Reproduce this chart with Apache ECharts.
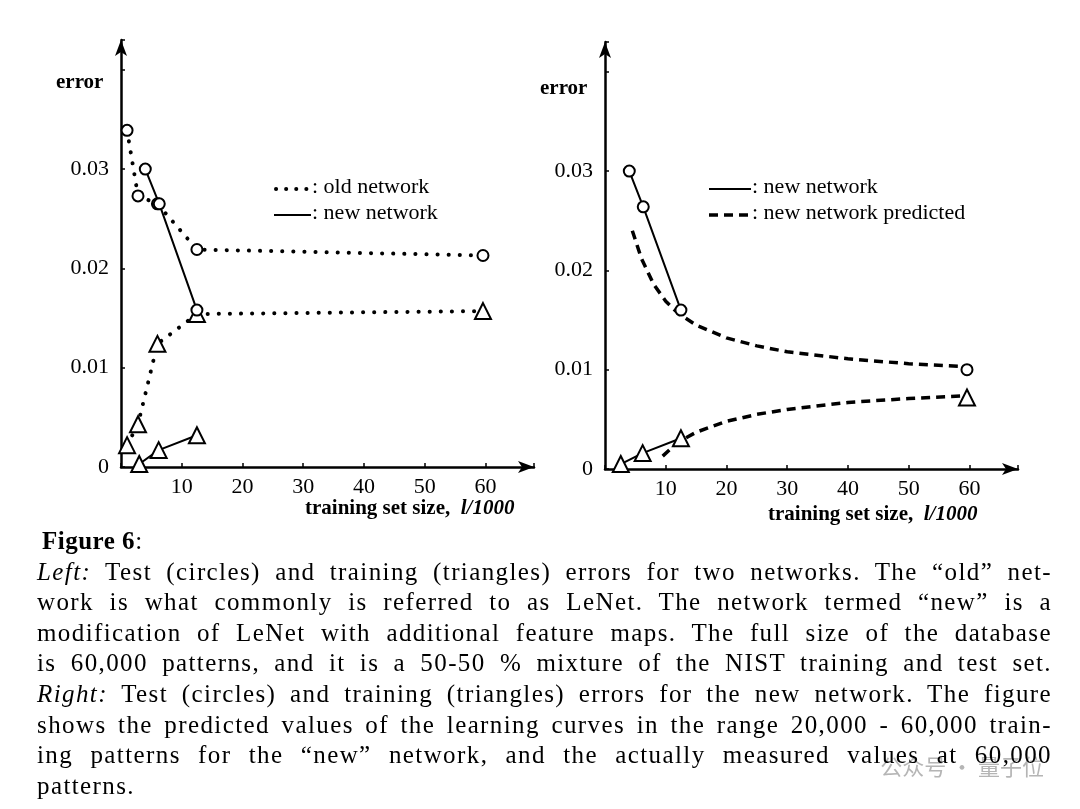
<!DOCTYPE html>
<html>
<head>
<meta charset="utf-8">
<script src="https://cdn.jsdelivr.net/npm/echarts@6/dist/echarts.min.js"></script>
<style>
html,body{margin:0;background:#fff}
#wrap{position:relative;width:1080px;height:809px}
#main{position:absolute;left:0;top:0;width:1080px;height:809px}
#cap{position:absolute;left:37px;top:526px;width:1015px;font:25px "Liberation Serif",serif;letter-spacing:1.4px;color:#000}
#cap div{height:30.6px;line-height:30.6px;text-align:justify;text-align-last:justify;white-space:nowrap}
#cap div.last{text-align-last:left}
</style>
</head>
<body>
<div id="wrap"><div id="main"></div><div id="cap"></div></div>
<script>
// left panel
var oldTest = [[1, 0.0339], [2.8, 0.0273], [6, 0.0265], [12.5, 0.0219], [59.6, 0.0213]];
var oldTrain = [[1, 0.0022], [2.8, 0.0043], [6, 0.0124], [12.5, 0.0154], [59.6, 0.0157]];
var newTestL = [[4, 0.0300], [6.3, 0.0265], [12.5, 0.0158]];
var newTrainL = [[3, 0.0003], [6.2, 0.0017], [12.5, 0.0032]];
// right panel
var newTestR = [[4, 0.0300], [6.3, 0.0264], [12.5, 0.0160]];
var newTrainR = [[2.6, 0.0005], [6.2, 0.0016], [12.5, 0.0031]];
var measured60 = [[59.6, 0.0100]];
var measured60Train = [[59.6, 0.0072]];
var predTest = [[4.5, 0.0240], [6, 0.0212], [8, 0.0186], [10, 0.0169], [12, 0.0157], [15, 0.0145], [20, 0.0132], [25, 0.0124], [30, 0.0118], [40, 0.0111], [50, 0.0106], [60, 0.0103]];
var predTrain = [[9.5, 0.0013], [12, 0.0027], [15, 0.0037], [20, 0.0048], [25, 0.0055], [30, 0.0060], [40, 0.0067], [50, 0.0071], [60, 0.0074]];

var captionLines = [
  '<b>Figure 6</b>:',
  '<i>Left:</i> Test (circles) and training (triangles) errors for two networks. The \u201cold\u201d net-',
  'work is what commonly is referred to as LeNet. The network termed \u201cnew\u201d is a',
  'modification of LeNet with additional feature maps. The full size of the database',
  'is 60,000 patterns, and it is a 50-50 % mixture of the NIST training and test set.',
  '<i>Right:</i> Test (circles) and training (triangles) errors for the new network. The figure',
  'shows the predicted values of the learning curves in the range 20,000 - 60,000 train-',
  'ing patterns for the \u201cnew\u201d network, and the actually measured values at 60,000',
  'patterns.'
];
document.getElementById('cap').innerHTML = captionLines.map(function (l, k) {
  var last = (k === 0 || k === captionLines.length - 1) ? ' class="last"' : '';
  var st = k === 0 ? ' style="padding-left:5px;letter-spacing:0.5px"' : '';
  return '<div' + last + st + '>' + l + '</div>';
}).join('');

var F = '"Liberation Serif", "DejaVu Serif", serif';
var chart = echarts.init(document.getElementById('main'));

function xAx(i) {
  return {
    type: 'value', gridIndex: i, min: 0, max: 68, interval: 10,
    axisLine: {lineStyle: {color: '#000', width: 2.5}, symbol: ['none', 'arrow'], symbolSize: [9, 16]},
    axisTick: {inside: true, length: 4, lineStyle: {color: '#000', width: 1.5}},
    axisLabel: {color: '#000', fontFamily: F, fontSize: 22, margin: 9,
      formatter: function (v) { return (v > 0 && v <= 60) ? String(v) : ''; }},
    splitLine: {show: false}
  };
}
function yAx(i) {
  return {
    type: 'value', gridIndex: i, min: 0, max: 0.043, interval: 0.01,
    axisLine: {onZero: false, lineStyle: {color: '#000', width: 2.5}, symbol: ['none', 'arrow'], symbolSize: [9, 16]},
    axisTick: {inside: true, length: 4, lineStyle: {color: '#000', width: 1.5}},
    axisLabel: {color: '#000', fontFamily: F, fontSize: 22, margin: 12,
      formatter: function (v) { return v > 0.035 ? '' : (v === 0 ? '0' : v.toFixed(2)); }},
    splitLine: {show: false}
  };
}
var dotted = {color: '#000', width: 4, type: [0.1, 11], cap: 'round'};
var solid = {color: '#000', width: 2};
var dashed = {color: '#000', width: 3.5, type: [9, 6]};
var none = {width: 0};
function ser(data, i, line, sym, size) {
  return {type: 'line', xAxisIndex: i, yAxisIndex: i, data: data, lineStyle: line,
    symbol: sym, symbolSize: size, showAllSymbol: true, smooth: false,
    itemStyle: {color: '#000', borderColor: '#000', borderWidth: 2}, z: 3, animation: false};
}

var graphic = [
  {type: 'text', left: 56, top: 72, style: {text: 'error', font: 'bold 21px ' + F, fill: '#000'}},
  {type: 'text', left: 540, top: 78, style: {text: 'error', font: 'bold 21px ' + F, fill: '#000'}},
  {type: 'text', left: 305, top: 498, style: {rich: {b: {font: 'bold 21px ' + F, fill: '#000'}, i: {font: 'italic bold 21px ' + F, fill: '#000'}}, text: '{b|training set size,  }{i|l/1000}'}},
  {type: 'text', left: 768, top: 504, style: {rich: {b: {font: 'bold 21px ' + F, fill: '#000'}, i: {font: 'italic bold 21px ' + F, fill: '#000'}}, text: '{b|training set size,  }{i|l/1000}'}},
  // legends
  {type: 'line', shape: {x1: 276, y1: 189, x2: 307, y2: 189}, style: {stroke: '#000', lineWidth: 4, lineDash: [0.1, 10], lineCap: 'round'}},
  {type: 'text', left: 312, top: 176, style: {text: ': old network', font: '22px ' + F, fill: '#000'}},
  {type: 'line', shape: {x1: 274, y1: 215, x2: 311, y2: 215}, style: {stroke: '#000', lineWidth: 2}},
  {type: 'text', left: 312, top: 202, style: {text: ': new network', font: '22px ' + F, fill: '#000'}},
  {type: 'line', shape: {x1: 709, y1: 189, x2: 751, y2: 189}, style: {stroke: '#000', lineWidth: 2}},
  {type: 'text', left: 752, top: 176, style: {text: ': new network', font: '22px ' + F, fill: '#000'}},
  {type: 'line', shape: {x1: 709, y1: 215, x2: 751, y2: 215}, style: {stroke: '#000', lineWidth: 3.5, lineDash: [9, 6]}},
  {type: 'text', left: 752, top: 202, style: {text: ': new network predicted', font: '22px ' + F, fill: '#000'}},
  {type: 'text', right: 36, top: 756, z: 10, style: {text: '\u516c\u4f17\u53f7 \u00b7 \u91cf\u5b50\u4f4d', font: '22px "Noto Sans CJK SC"', fill: 'rgba(150,150,150,0.7)'}}
];

chart.setOption({
  grid: [
    {left: 121, top: 40, width: 413, height: 427},
    {left: 605, top: 42, width: 413, height: 427}
  ],
  xAxis: [xAx(0), xAx(1)],
  yAxis: [yAx(0), yAx(1)],
  graphic: graphic,
  series: [
    ser(oldTest, 0, dotted, 'emptyCircle', 11),
    ser(oldTrain, 0, dotted, 'emptyTriangle', 16),
    ser(newTestL, 0, solid, 'emptyCircle', 11),
    ser(newTrainL, 0, solid, 'emptyTriangle', 16),
    ser(predTest, 1, dashed, 'none', 0),
    ser(predTrain, 1, dashed, 'none', 0),
    ser(newTestR, 1, solid, 'emptyCircle', 11),
    ser(newTrainR, 1, solid, 'emptyTriangle', 16),
    ser(measured60, 1, none, 'emptyCircle', 11),
    ser(measured60Train, 1, none, 'emptyTriangle', 16)
  ]
});
</script>
</body>
</html>
